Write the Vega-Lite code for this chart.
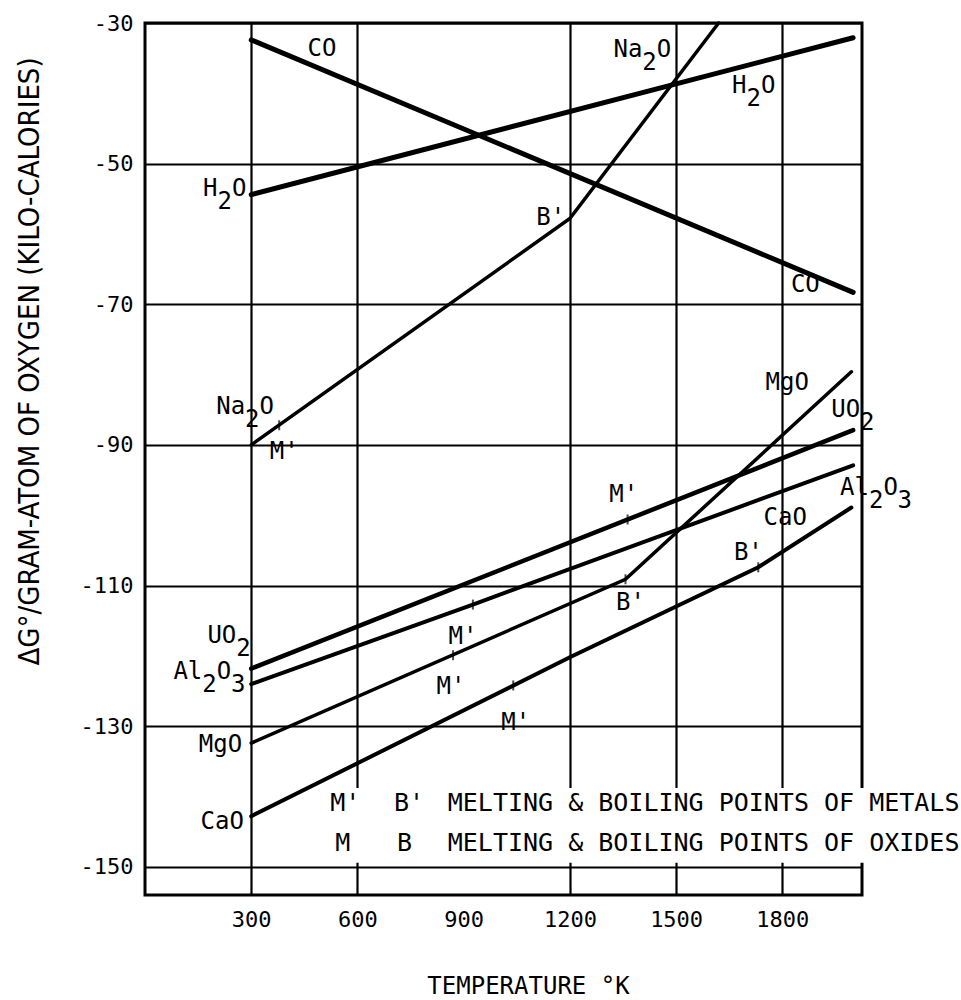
{
  "$schema": "https://vega.github.io/schema/vega-lite/v6.json",
  "width": 717,
  "height": 872,
  "autosize": {"type": "none"},
  "padding": {"left": 145, "top": 23, "right": 99, "bottom": 105},
  "background": "white",
  "config": {
    "view": {"stroke": "black", "strokeWidth": 3},
    "font": "DejaVu Sans Mono, Liberation Mono, monospace"
  },
  "datasets": {
    "lines": [
      {"s": "CO", "t": 300, "g": -32.4}, {"s": "CO", "t": 2000, "g": -68.3},
      {"s": "H2O", "t": 300, "g": -54.4}, {"s": "H2O", "t": 2000, "g": -32.1},
      {"s": "Na2O", "t": 300, "g": -90}, {"s": "Na2O", "t": 1200, "g": -57.8}, {"s": "Na2O", "t": 1620, "g": -30},
      {"s": "UO2", "t": 300, "g": -121.8}, {"s": "UO2", "t": 2000, "g": -87.9},
      {"s": "Al2O3", "t": 300, "g": -124.0}, {"s": "Al2O3", "t": 926, "g": -112.7}, {"s": "Al2O3", "t": 2000, "g": -92.9},
      {"s": "MgO", "t": 300, "g": -132.4}, {"s": "MgO", "t": 1357, "g": -109.1}, {"s": "MgO", "t": 1995, "g": -79.6},
      {"s": "CaO", "t": 300, "g": -142.8}, {"s": "CaO", "t": 1200, "g": -120.2}, {"s": "CaO", "t": 1732, "g": -107.4}, {"s": "CaO", "t": 1995, "g": -98.9}
    ],
    "ticks": [
      {"t": 379, "g": -87.2},
      {"t": 1363, "g": -100.6},
      {"t": 926, "g": -112.7},
      {"t": 870, "g": -119.9},
      {"t": 1040, "g": -124.2},
      {"t": 1732, "g": -107.4},
      {"t": 1357, "g": -109.1}
    ],
    "labels": [
      {"label": "CO", "t": 500, "g": -33.7},
      {"label": "Na", "t": 1364, "g": -33.9},
      {"label": "O", "t": 1466, "g": -33.9},
      {"label": "H", "t": 1678, "g": -38.9},
      {"label": "O", "t": 1760, "g": -38.9},
      {"label": "H", "t": 184, "g": -53.6},
      {"label": "O", "t": 266, "g": -53.6},
      {"label": "B'", "t": 1146, "g": -57.7},
      {"label": "CO", "t": 1865, "g": -67.3},
      {"label": "Na", "t": 242, "g": -84.6},
      {"label": "O", "t": 344, "g": -84.6},
      {"label": "M'", "t": 393, "g": -91.0},
      {"label": "MgO", "t": 1814, "g": -81.2},
      {"label": "UO", "t": 1979, "g": -85.0},
      {"label": "Al", "t": 2004, "g": -96.1},
      {"label": "O", "t": 2106, "g": -96.1},
      {"label": "CaO", "t": 1808, "g": -100.4},
      {"label": "B'", "t": 1704, "g": -105.4},
      {"label": "M'", "t": 1352, "g": -97.1},
      {"label": "B'", "t": 1371, "g": -112.5},
      {"label": "M'", "t": 898, "g": -117.3},
      {"label": "M'", "t": 864, "g": -124.4},
      {"label": "M'", "t": 1047, "g": -129.5},
      {"label": "UO", "t": 217, "g": -117.1},
      {"label": "Al", "t": 121, "g": -122.3},
      {"label": "O", "t": 223, "g": -122.3},
      {"label": "MgO", "t": 213, "g": -132.6},
      {"label": "CaO", "t": 218, "g": -143.6}
    ],
    "subs": [
      {"label": "2", "t": 1425, "g": -33.9},
      {"label": "2", "t": 1719, "g": -38.9},
      {"label": "2", "t": 225, "g": -53.6},
      {"label": "2", "t": 303, "g": -84.6},
      {"label": "2", "t": 2040, "g": -85.0},
      {"label": "2", "t": 2065, "g": -96.1},
      {"label": "3", "t": 2146, "g": -96.1},
      {"label": "2", "t": 278, "g": -117.1},
      {"label": "2", "t": 182, "g": -122.3},
      {"label": "3", "t": 263, "g": -122.3}
    ],
    "legendtext": [
      {"label": "M'", "t": 523, "g": -140.9},
      {"label": "B'", "t": 703, "g": -140.9},
      {"label": "MELTING & BOILING POINTS OF METALS", "t": 855, "g": -140.9},
      {"label": "M", "t": 537, "g": -146.6},
      {"label": "B", "t": 712, "g": -146.6},
      {"label": "MELTING & BOILING POINTS OF OXIDES", "t": 855, "g": -146.6}
    ],
    "box": [
      {"t1": 500, "t2": 2300, "g1": -138.8, "g2": -149.4}
    ]
  },
  "layer": [
    {
      "data": {"name": "box"},
      "mark": {"type": "rect", "color": "white"},
      "encoding": {
        "x": {
          "field": "t1", "type": "quantitative",
          "scale": {"domain": [0, 2025], "nice": false, "zero": false},
          "axis": {
            "title": "TEMPERATURE °K",
            "values": [300, 600, 900, 1200, 1500, 1800],
            "format": "d",
            "ticks": false, "domain": false,
            "grid": true, "gridColor": "black", "gridWidth": 2.2,
            "gridOpacity": {"condition": {"test": "datum.value === 900", "value": 0}, "value": 1},
            "labelFontSize": 22, "labelColor": "black", "labelPadding": 14,
            "labelFont": "DejaVu Sans Mono, Liberation Mono, monospace",
            "titleFontSize": 24, "titleFontWeight": "normal", "titleColor": "black",
            "titleFont": "DejaVu Sans Mono, Liberation Mono, monospace",
            "titleX": 383, "titleY": 91, "titleAlign": "center", "titleBaseline": "middle"
          }
        },
        "x2": {"field": "t2"},
        "y": {
          "field": "g1", "type": "quantitative",
          "scale": {"domain": [-154, -30], "nice": false, "zero": false},
          "axis": {
            "title": "ΔG°/GRAM-ATOM OF OXYGEN (KILO-CALORIES)",
            "values": [-30, -50, -70, -90, -110, -130, -150],
            "labelExpr": "'-' + abs(datum.value)",
            "ticks": false, "domain": false,
            "grid": true, "gridColor": "black", "gridWidth": 2.2,
            "labelFontSize": 22, "labelColor": "black", "labelPadding": 12,
            "labelFont": "DejaVu Sans Mono, Liberation Mono, monospace",
            "titleFontSize": 29, "titleFontWeight": "normal", "titleColor": "black",
            "titleFont": "DejaVu Sans Condensed, Liberation Sans Narrow, DejaVu Sans",
            "titleX": -116, "titleY": 338, "titleAngle": 270, "titleAlign": "center", "titleBaseline": "middle"
          }
        },
        "y2": {"field": "g2"}
      }
    },
    {
      "data": {"name": "lines"},
      "mark": {"type": "line", "color": "black", "strokeCap": "round"},
      "encoding": {
        "x": {"field": "t", "type": "quantitative"},
        "y": {"field": "g", "type": "quantitative"},
        "detail": {"field": "s", "type": "nominal"},
        "strokeWidth": {
          "field": "s", "type": "nominal", "legend": null,
          "scale": {"type": "ordinal", "domain": ["CO", "H2O", "Na2O", "UO2", "Al2O3", "MgO", "CaO"], "range": [5, 5, 3.5, 4.5, 4, 3.5, 4]}
        }
      }
    },
    {
      "data": {"name": "ticks"},
      "mark": {"type": "tick", "orient": "vertical", "size": 10, "thickness": 2, "color": "black"},
      "encoding": {
        "x": {"field": "t", "type": "quantitative"},
        "y": {"field": "g", "type": "quantitative"}
      }
    },
    {
      "data": {"name": "labels"},
      "mark": {"type": "text", "fontSize": 24, "color": "black", "align": "center", "baseline": "middle"},
      "encoding": {
        "x": {"field": "t", "type": "quantitative"},
        "y": {"field": "g", "type": "quantitative"},
        "text": {"field": "label"}
      }
    },
    {
      "data": {"name": "subs"},
      "mark": {"type": "text", "fontSize": 24, "color": "black", "align": "center", "baseline": "middle", "dy": 13},
      "encoding": {
        "x": {"field": "t", "type": "quantitative"},
        "y": {"field": "g", "type": "quantitative"},
        "text": {"field": "label"}
      }
    },
    {
      "data": {"name": "legendtext"},
      "mark": {"type": "text", "fontSize": 25, "color": "black", "align": "left", "baseline": "middle"},
      "encoding": {
        "x": {"field": "t", "type": "quantitative"},
        "y": {"field": "g", "type": "quantitative"},
        "text": {"field": "label"}
      }
    }
  ]
}
